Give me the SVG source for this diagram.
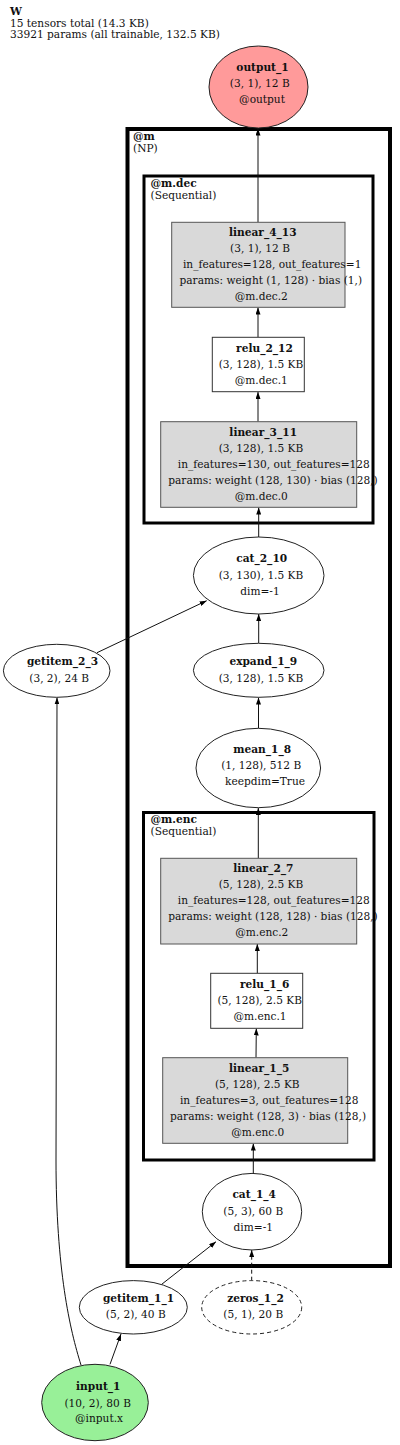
<svg xmlns="http://www.w3.org/2000/svg" width="400" height="1445" viewBox="0 0 400 1445">
<style>
text{font-family:"DejaVu Serif","Liberation Serif",serif;font-size:10.6px;fill:#111;text-anchor:middle}
.b{font-weight:bold}
.l{text-anchor:start}
.cl{fill:none;stroke:#000}
.box{fill:#d9d9d9;stroke:#555;stroke-width:1}
.wbox{fill:#fff;stroke:#333;stroke-width:1}
.ell{fill:#fff;stroke:#222;stroke-width:1}
.e{fill:none;stroke:#111;stroke-width:1;marker-end:url(#ah)}
</style>
<defs>
<marker id="ah" viewBox="0 0 7 5" refX="7" refY="2.5" markerWidth="7" markerHeight="5" orient="auto" markerUnits="userSpaceOnUse">
<path d="M0,0 L7,2.5 L0,5 z" fill="#000"/>
</marker>
</defs>
<rect width="400" height="1445" fill="#fff"/>
<g id="header">
<text class="b l" x="10" y="15">W</text>
<text class="l" x="10" y="26.5">15 tensors total (14.3 KB)</text>
<text class="l" x="10" y="37.5">33921 params (all trainable, 132.5 KB)</text>
</g>
<g id="cluster_m">
<rect class="cl" x="127.5" y="129" width="262.5" height="1137" stroke-width="4"/>
<text class="b l" x="133" y="139.5">@m</text>
<text class="l" x="133" y="151.5">(NP)</text>
</g>
<g id="cluster_m_dec">
<rect class="cl" x="144" y="176" width="229" height="347" stroke-width="3"/>
<text class="b l" x="150.5" y="187">@m.dec</text>
<text class="l" x="150.5" y="198.5">(Sequential)</text>
</g>
<g id="cluster_m_enc">
<rect class="cl" x="143.5" y="812.5" width="230.5" height="347.5" stroke-width="3"/>
<text class="b l" x="150.5" y="823">@m.enc</text>
<text class="l" x="150.5" y="834.5">(Sequential)</text>
</g>
<g id="edges">
<path class="e" d="M258,222 L258,128.5"/>
<path class="e" d="M258,337 L258,307.5"/>
<path class="e" d="M258,421.7 L258,392"/>
<path class="e" d="M258.7,537 L258.7,507.5"/>
<path class="e" d="M258.7,643 L258.7,614"/>
<path class="e" d="M97,652.7 L206.7,600.7"/>
<path class="e" d="M258.5,728.3 L258.5,697.5"/>
<path class="e" d="M258.3,858.3 L258.3,808"/>
<path class="e" d="M257.3,973.3 L257.3,944"/>
<path class="e" d="M256,1057.7 L256.3,1028.5"/>
<path class="e" d="M253.3,1173.3 L253.3,1143.5"/>
<path class="e" d="M161.7,1284.3 L216,1241.7"/>
<path class="e" d="M251.7,1280.7 L251.7,1250" stroke-dasharray="4,3"/>
<path class="e" d="M110,1364.3 L121,1334"/>
<path class="e" d="M81,1365 C70,1330 56,1270 56,1160 L57,697.5"/>
</g>
<g id="output_1">
<ellipse cx="258.5" cy="87" rx="49.5" ry="41" fill="#ff9a9a" stroke="#222"/>
<text class="b" x="262.5" y="70.7">output_1</text>
<text x="259.8" y="86.7">(3, 1), 12 B</text>
<text x="262" y="102.7">@output</text>
</g>
<g id="linear_4_13">
<rect class="box" x="171.7" y="222.3" width="173.3" height="85"/>
<text class="b" x="262.8" y="236">linear_4_13</text>
<text x="260" y="252.3">(3, 1), 12 B</text>
<text x="272.2" y="268.3">in_features=128, out_features=1</text>
<text x="270.8" y="284">params: weight (1, 128) · bias (1,)</text>
<text x="261.2" y="300">@m.dec.2</text>
</g>
<g id="relu_2_12">
<rect class="wbox" x="212.3" y="337.3" width="92" height="54.4"/>
<text class="b" x="264.5" y="352.3">relu_2_12</text>
<text x="261" y="368.3">(3, 128), 1.5 KB</text>
<text x="261.2" y="384.3">@m.dec.1</text>
</g>
<g id="linear_3_11">
<rect class="box" x="160.7" y="421.7" width="196" height="85.6"/>
<text class="b" x="263.2" y="435.7">linear_3_11</text>
<text x="261" y="452.3">(3, 128), 1.5 KB</text>
<text x="273.8" y="467.7">in_features=130, out_features=128</text>
<text x="273" y="484">params: weight (128, 130) · bias (128,)</text>
<text x="261.2" y="500">@m.dec.0</text>
</g>
<g id="cat_2_10">
<ellipse class="ell" cx="258.7" cy="575.5" rx="65.3" ry="38.5"/>
<text class="b" x="261.7" y="562.3">cat_2_10</text>
<text x="261" y="579">(3, 130), 1.5 KB</text>
<text x="260" y="595">dim=-1</text>
</g>
<g id="getitem_2_3">
<ellipse class="ell" cx="56.7" cy="670.8" rx="53.3" ry="26.5"/>
<text class="b" x="62.5" y="665">getitem_2_3</text>
<text x="59.2" y="681.7">(3, 2), 24 B</text>
</g>
<g id="expand_1_9">
<ellipse class="ell" cx="258.7" cy="670.3" rx="65.3" ry="27"/>
<text class="b" x="263.3" y="665">expand_1_9</text>
<text x="261" y="681.7">(3, 128), 1.5 KB</text>
</g>
<g id="mean_1_8">
<ellipse class="ell" cx="258.3" cy="768" rx="62.3" ry="39.7"/>
<text class="b" x="262.2" y="753.3">mean_1_8</text>
<text x="261.2" y="769.3">(1, 128), 512 B</text>
<text x="265" y="785">keepdim=True</text>
</g>
<g id="linear_2_7">
<rect class="box" x="160.7" y="858.3" width="196" height="85.7"/>
<text class="b" x="263.3" y="871.7">linear_2_7</text>
<text x="261" y="888.3">(5, 128), 2.5 KB</text>
<text x="273.8" y="904">in_features=128, out_features=128</text>
<text x="273" y="920">params: weight (128, 128) · bias (128,)</text>
<text x="261.7" y="936">@m.enc.2</text>
</g>
<g id="relu_1_6">
<rect class="wbox" x="210.7" y="973.3" width="92" height="55"/>
<text class="b" x="264.7" y="987.7">relu_1_6</text>
<text x="259.7" y="1004">(5, 128), 2.5 KB</text>
<text x="260" y="1020">@m.enc.1</text>
</g>
<g id="linear_1_5">
<rect class="box" x="162.7" y="1057.7" width="185" height="85.6"/>
<text class="b" x="259.2" y="1071.7">linear_1_5</text>
<text x="257.3" y="1088.3">(5, 128), 2.5 KB</text>
<text x="269.2" y="1104">in_features=3, out_features=128</text>
<text x="268" y="1120">params: weight (128, 3) · bias (128,)</text>
<text x="257.7" y="1135.7">@m.enc.0</text>
</g>
<g id="cat_1_4">
<ellipse class="ell" cx="252" cy="1211.7" rx="49.7" ry="38.3"/>
<text class="b" x="254.2" y="1198.3">cat_1_4</text>
<text x="253.3" y="1215">(5, 3), 60 B</text>
<text x="253.3" y="1230.7">dim=-1</text>
</g>
<g id="getitem_1_1">
<ellipse class="ell" cx="133.3" cy="1307.3" rx="54" ry="26.7"/>
<text class="b" x="138.5" y="1301.7">getitem_1_1</text>
<text x="135.8" y="1318.3">(5, 2), 40 B</text>
</g>
<g id="zeros_1_2">
<ellipse class="ell" cx="251.7" cy="1307.3" rx="50" ry="26.7" stroke-dasharray="4,3"/>
<text class="b" x="255.5" y="1301.7">zeros_1_2</text>
<text x="253.3" y="1318.3">(5, 1), 20 B</text>
</g>
<g id="input_1">
<ellipse cx="95" cy="1402.5" rx="53.3" ry="38.2" fill="#98f098" stroke="#222"/>
<text class="b" x="98.3" y="1390">input_1</text>
<text x="97.7" y="1406.7">(10, 2), 80 B</text>
<text x="99" y="1421.7">@input.x</text>
</g>
</svg>
